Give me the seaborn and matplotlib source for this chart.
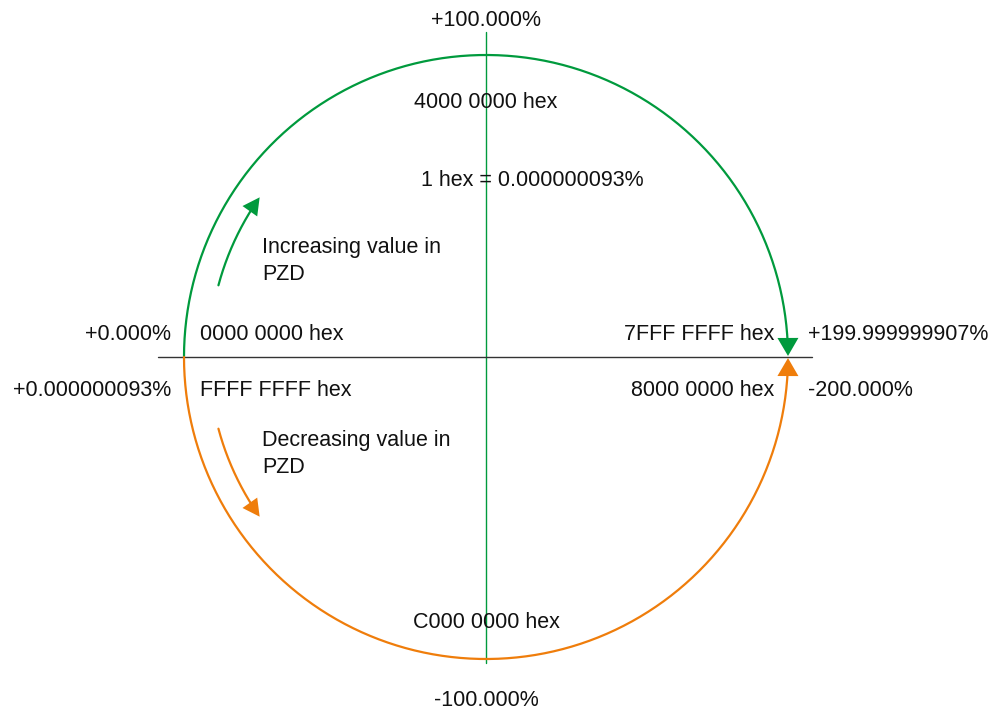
import numpy as np
import pandas as pd
import matplotlib
matplotlib.use("Agg")
import matplotlib.pyplot as plt
from matplotlib.patches import Polygon
import seaborn as sns

# labels of the value circle
pct_top = "+100.000%"
pct_bottom = "-100.000%"
hex_top = "4000 0000 hex"
hex_bottom = "C000 0000 hex"
resolution = "1 hex = 0.000000093%"
left_upper = ["+0.000%", "0000 0000 hex"]
left_lower = ["+0.000000093%", "FFFF FFFF hex"]
right_upper = ["7FFF FFFF hex", "+199.999999907%"]
right_lower = ["8000 0000 hex", "-200.000%"]
inc_text = "Increasing value in\nPZD"
dec_text = "Decreasing value in\nPZD"

GREEN = "#009a3d"
ORANGE = "#ef7d0b"

sns.set_style("white")
plt.rcParams["font.family"] = ["Liberation Sans", "DejaVu Sans"]

fig = plt.figure(figsize=(9.95, 7.11), dpi=100)
ax = fig.add_axes([0, 0, 1, 1])
ax.set_xlim(0, 995)
ax.set_ylim(711, 0)
ax.axis("off")

cx, cy, R = 486, 357, 302


def arc(theta0, theta1, r, n=200):
    t = np.radians(np.linspace(theta0, theta1, n))
    return pd.DataFrame({"x": cx + r * np.cos(t), "y": cy - r * np.sin(t), "o": np.arange(n)})


def head(tip_deg, r, sense, color, length, width):
    # triangle whose tip sits on the circle, pointing along the tangent
    t = np.radians(tip_deg)
    tip = np.array([cx + r * np.cos(t), cy - r * np.sin(t)])
    d = sense * np.array([-np.sin(t), -np.cos(t)])  # tangent in screen coords
    nrm = np.array([-d[1], d[0]])
    base = tip - d * length
    pts = [tip, base + nrm * width / 2, base - nrm * width / 2]
    ax.add_patch(Polygon(pts, closed=True, color=color, lw=0, zorder=5))


# axes lines
ax.plot([486, 486], [32, 663], color=GREEN, lw=1.0, zorder=1)
ax.plot([158, 812], [357, 357], color="#333333", lw=1.0, zorder=1)

# main circle: green upper half, orange lower half
sns.lineplot(data=arc(180, 3.4, R), x="x", y="y", sort=False, estimator=None,
             color=GREEN, lw=1.6, ax=ax)
sns.lineplot(data=arc(-180, -3.4, R), x="x", y="y", sort=False, estimator=None,
             color=ORANGE, lw=1.6, ax=ax)
head(0.2, R, -1, GREEN, 18, 21)
head(-0.2, R, 1, ORANGE, 18, 21)

# small direction arrows
r2 = 277
sns.lineplot(data=arc(165, 148.0, r2), x="x", y="y", sort=False, estimator=None,
             color=GREEN, lw=1.6, ax=ax)
sns.lineplot(data=arc(-165, -148.0, r2), x="x", y="y", sort=False, estimator=None,
             color=ORANGE, lw=1.6, ax=ax)
head(144.8, r2, -1, GREEN, 17, 18)
head(-144.8, r2, 1, ORANGE, 17, 18)

fs = 15.5
kw = dict(fontsize=fs, color="#111111", va="center")
ax.text(486, 21, pct_top, ha="center", **kw)
ax.text(486, 102, hex_top, ha="center", **kw)
ax.text(421, 181, resolution, ha="left", **kw)
ax.text(262, 261, inc_text, ha="left", linespacing=1.35, **kw)
ax.text(262, 454, dec_text, ha="left", linespacing=1.35, **kw)
ax.text(171, 335, left_upper[0], ha="right", **kw)
ax.text(200, 335, left_upper[1], ha="left", **kw)
ax.text(171, 391, left_lower[0], ha="right", **kw)
ax.text(200, 391, left_lower[1], ha="left", **kw)
ax.text(774, 335, right_upper[0], ha="right", **kw)
ax.text(808, 335, right_upper[1], ha="left", **kw)
ax.text(774, 391, right_lower[0], ha="right", **kw)
ax.text(808, 391, right_lower[1], ha="left", **kw)
ax.text(486, 622, hex_bottom, ha="center", **kw)
ax.text(486, 700, pct_bottom, ha="center", **kw)

fig.savefig("out.png", dpi=100)
